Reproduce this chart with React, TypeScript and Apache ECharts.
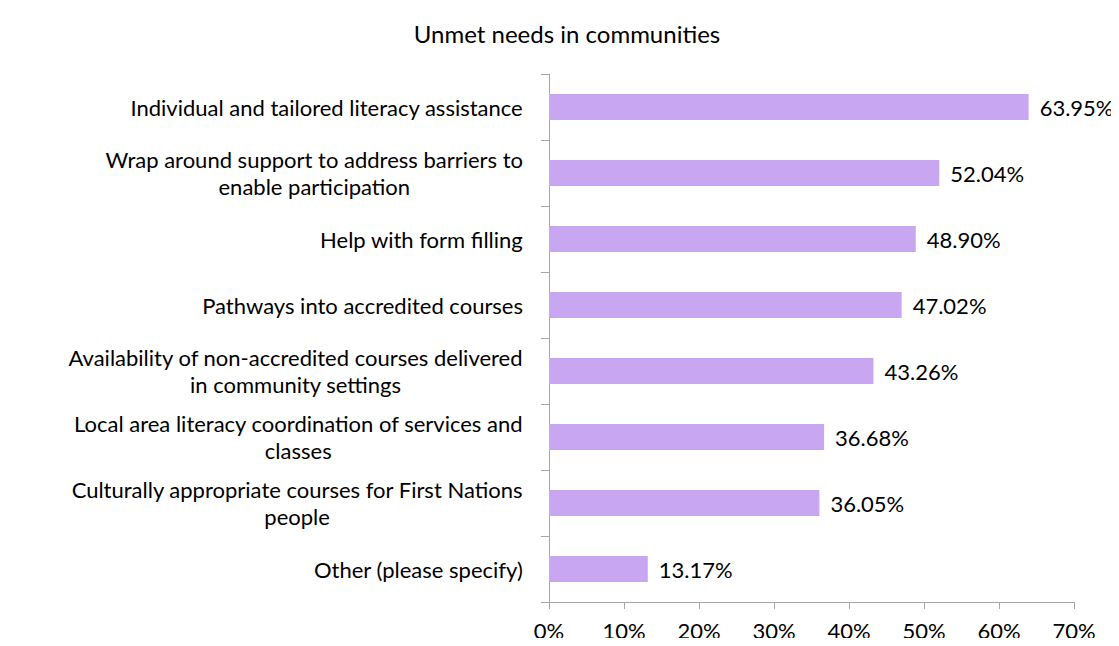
import React, { useEffect, useRef } from "react";
import * as echarts from "echarts";

const title = "Unmet needs in communities";
const categories: string[][] = [
  ["Individual and tailored literacy assistance"],
  ["Wrap around support to address barriers to", "enable participation"],
  ["Help with form filling"],
  ["Pathways into accredited courses"],
  ["Availability of non-accredited courses delivered", "in community settings"],
  ["Local area literacy coordination of services and", "classes"],
  ["Culturally appropriate courses for First Nations", "people"],
  ["Other (please specify)"],
];
const values = [63.95, 52.04, 48.9, 47.02, 43.26, 36.68, 36.05, 13.17];
const xTicks = [0, 10, 20, 30, 40, 50, 60, 70];

const FONT = "Lato";
const FS = 22;

export default function App() {
  const ref = useRef<HTMLDivElement>(null);
  useEffect(() => {
    if (!ref.current) return;
    const chart = echarts.init(ref.current, undefined, { renderer: "svg" });
    const catNames = categories.map((c) => c.join("\n"));
    chart.setOption({
      animation: false,
      backgroundColor: "#ffffff",
      textStyle: { fontFamily: FONT },
      title: {
        text: title,
        left: 562,
        top: 16,
        textAlign: "center",
        textStyle: { fontFamily: FONT, fontSize: 24, fontWeight: "normal", color: "#000" },
      },
      grid: { left: 549, right: 45, top: 74, bottom: 44, containLabel: false },
      xAxis: {
        type: "value",
        min: xTicks[0],
        max: xTicks[xTicks.length - 1],
        interval: 10,
        axisLine: { show: true, lineStyle: { color: "#a6a6a6", width: 1 } },
        axisTick: { show: true, length: 7, lineStyle: { color: "#a6a6a6" } },
        splitLine: { show: false },
        axisLabel: {
          margin: 17,
          fontFamily: FONT,
          fontSize: FS,
          color: "#000",
          formatter: (v: number) => `${v}%`,
        },
      },
      yAxis: {
        type: "category",
        inverse: true,
        data: catNames,
        axisLine: { show: true, lineStyle: { color: "#a6a6a6", width: 1 } },
        axisTick: { show: true, length: 8, lineStyle: { color: "#a6a6a6" } },
        axisLabel: {
          margin: 26,
          align: "right",
          lineHeight: 27,
          fontFamily: FONT,
          fontSize: FS,
          color: "#000",
          formatter: (v: string) =>
            v
              .split("\n")
              .map((l) => `{c|${l}}`)
              .join("\n"),
          rich: {
            c: { align: "center", fontFamily: FONT, fontSize: FS, color: "#000", lineHeight: 27 },
          },
        },
      },
      series: [
        {
          type: "bar",
          data: values,
          barWidth: 26,
          itemStyle: { color: "#c9a6f2" },
          label: {
            show: true,
            position: "right",
            distance: 11,
            fontFamily: FONT,
            fontSize: 22,
            color: "#000",
            formatter: (p: any) => `${p.value.toFixed(2)}%`,
          },
        },
      ],
    });
    return () => chart.dispose();
  }, []);
  return <div ref={ref} style={{ width: 1119, height: 646, margin: -8 }} />;
}
